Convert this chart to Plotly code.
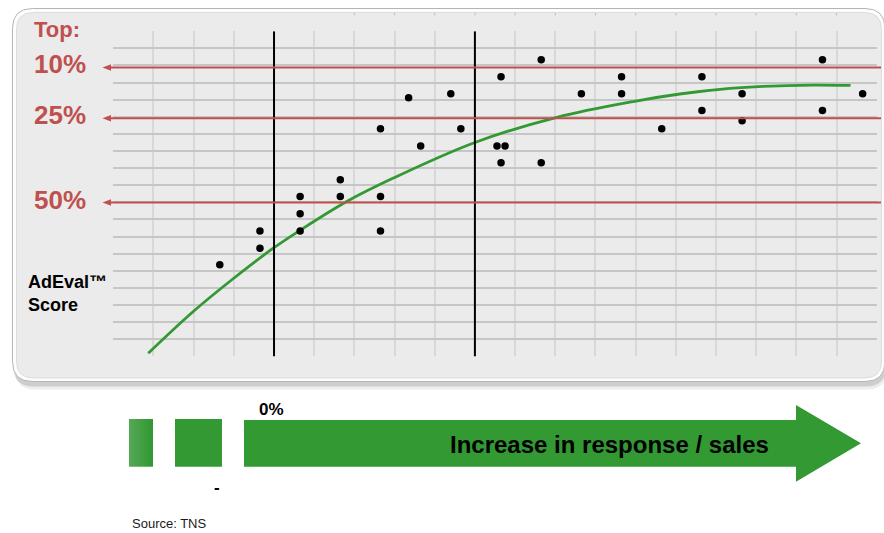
import plotly.graph_objects as go

W, H = 884, 533

# ---- data (grid units: 19 x 19 cells) ----
ad_x = [2.65, 3.65, 3.65, 4.65, 4.65, 4.65, 5.65, 5.65, 6.65, 6.65, 6.65,
        7.35, 7.65, 8.40, 8.65, 9.65, 9.55, 9.75, 9.65, 10.65, 10.65,
        11.65, 12.65, 12.65, 13.65, 14.65, 14.65, 15.65, 15.65, 17.65,
        17.65, 18.65]
ad_y = [5.35, 7.33, 6.32, 9.34, 8.33, 7.33, 10.32, 9.34, 13.30, 9.34, 7.33,
        15.11, 12.30, 15.35, 13.30, 16.34, 12.30, 12.30, 11.31, 17.33, 11.31,
        15.35, 16.34, 15.35, 13.30, 16.34, 14.37, 15.35, 13.77, 17.33,
        14.37, 15.35]

trend_x = [0.87, 1.99, 2.99, 3.98, 4.65, 5.81, 6.97, 9.00, 11.04, 12.94,
           14.10, 15.35, 16.17, 17.41, 18.35]
trend_y = [0.18, 2.62, 4.55, 6.32, 7.37, 9.05, 10.42, 12.50, 13.97, 14.89,
           15.33, 15.66, 15.78, 15.85, 15.83]

ref_labels = ["10%", "25%", "50%"]
ref_levels = [16.88, 13.92, 8.99]

divider_x = [4, 9]
grid_ticks = list(range(1, 19))
top_marks = list(range(6, 19))

FONT = "Liberation Sans, Arial, Helvetica, sans-serif"
RED = "#c0504d"
GREEN = "#339933"


def fx(x):
    return x / W


def fy(y):
    return 1 - y / H


def pt(x, y):
    return f"{fx(x):.5f},{fy(y):.5f}"


def rounded_rect(x0, y0, x1, y1, r):
    return (f"M{pt(x0 + r, y0)} L{pt(x1 - r, y0)} Q{pt(x1, y0)} {pt(x1, y0 + r)} "
            f"L{pt(x1, y1 - r)} Q{pt(x1, y1)} {pt(x1 - r, y1)} "
            f"L{pt(x0 + r, y1)} Q{pt(x0, y1)} {pt(x0, y1 - r)} "
            f"L{pt(x0, y0 + r)} Q{pt(x0, y0)} {pt(x0 + r, y0)} Z")


def polygon(points):
    return "M" + " L".join(pt(x, y) for x, y in points) + " Z"


shapes = []

# panel: soft shadow, white rim, grey face
shapes.append(dict(type="path", xref="paper", yref="paper", layer="below",
                   path=rounded_rect(14.5, 11, 887.5, 389.5, 21),
                   fillcolor="rgba(0,0,0,0.07)", line=dict(width=0)))
shapes.append(dict(type="path", xref="paper", yref="paper", layer="below",
                   path=rounded_rect(13.5, 10, 886, 386.5, 20),
                   fillcolor="rgba(0,0,0,0.13)", line=dict(width=0)))
shapes.append(dict(type="path", xref="paper", yref="paper", layer="below",
                   path=rounded_rect(12.5, 8.5, 885, 381.5, 20),
                   fillcolor="#fdfdfd", line=dict(color="#b5b5b5", width=1)))
shapes.append(dict(type="path", xref="paper", yref="paper", layer="below",
                   path=rounded_rect(16.5, 12.5, 881.5, 378, 17),
                   fillcolor="#ebebeb", line=dict(color="#d6d6d6", width=0.8)))

# small marks along the top rim
for k in top_marks:
    shapes.append(dict(type="line", xref="x", yref="paper", x0=k, x1=k,
                       y0=fy(13), y1=fy(15.5),
                       line=dict(color="#c4c4c4", width=1.2)))

# black dividers
for xv in divider_x:
    shapes.append(dict(type="line", xref="x", yref="y", x0=xv, x1=xv,
                       y0=0, y1=19, line=dict(color="black", width=2)))

# red percentile reference lines with left-pointing heads
for lvl in ref_levels:
    shapes.append(dict(type="line", xref="paper", yref="y",
                       x0=fx(109), x1=fx(881), y0=lvl, y1=lvl,
                       line=dict(color=RED, width=2)))
    shapes.append(dict(type="path", xref="paper", yref="y",
                       path=(f"M{fx(102.5):.5f},{lvl} L{fx(111):.5f},{lvl + 0.19} "
                             f"L{fx(111):.5f},{lvl - 0.19} Z"),
                       fillcolor=RED, line=dict(width=0)))

# green response arrow under the panel
light = (84, 166, 84)
dark = (51, 153, 51)
n = 8
x_left, x_right = 129, 153
for i in range(n):
    t = i / (n - 1)
    c = tuple(round(light[j] + (dark[j] - light[j]) * t) for j in range(3))
    xa = x_left + (x_right - x_left) * i / n
    xb = x_left + (x_right - x_left) * (i + 1) / n + 0.4
    shapes.append(dict(type="rect", xref="paper", yref="paper",
                       x0=fx(xa), x1=fx(min(xb, x_right)), y0=fy(466.7), y1=fy(419),
                       fillcolor="rgb(%d,%d,%d)" % c, line=dict(width=0)))
shapes.append(dict(type="rect", xref="paper", yref="paper",
                   x0=fx(175), x1=fx(222), y0=fy(466.7), y1=fy(419),
                   fillcolor=GREEN, line=dict(width=0)))
shapes.append(dict(type="path", xref="paper", yref="paper",
                   path=polygon([(244, 420), (796, 420), (796, 405), (861, 443.3),
                                 (796, 481.7), (796, 466.7), (244, 466.7)]),
                   fillcolor=GREEN, line=dict(width=0)))

annotations = []
annotations.append(dict(xref="paper", yref="paper", x=fx(31.5), y=fy(29.5),
                        xanchor="left", yanchor="middle", showarrow=False,
                        text="<b>Top:</b>", font=dict(family=FONT, size=22, color=RED)))
for lab, lvl in zip(ref_labels, ref_levels):
    annotations.append(dict(xref="paper", yref="y", x=fx(31.5), y=lvl, yshift=3,
                            xanchor="left", yanchor="middle", showarrow=False,
                            text=f"<b>{lab}</b>",
                            font=dict(family=FONT, size=26, color=RED)))
annotations.append(dict(xref="paper", yref="paper", x=fx(26), y=fy(293),
                        xanchor="left", yanchor="middle", showarrow=False, align="left",
                        text="<b>AdEval™<br>Score</b>",
                        font=dict(family=FONT, size=18, color="black")))
annotations.append(dict(xref="paper", yref="paper", x=fx(271), y=fy(409.5),
                        xanchor="center", yanchor="middle", showarrow=False,
                        text="<b>0%</b>", font=dict(family=FONT, size=17, color="black")))
annotations.append(dict(xref="paper", yref="paper", x=fx(217), y=fy(487),
                        xanchor="center", yanchor="middle", showarrow=False,
                        text="<b>-</b>", font=dict(family=FONT, size=17, color="black")))
annotations.append(dict(xref="paper", yref="paper", x=fx(609.5), y=fy(444),
                        xanchor="center", yanchor="middle", showarrow=False,
                        text="<b>Increase in response / sales</b>",
                        font=dict(family=FONT, size=24, color="black")))
annotations.append(dict(xref="paper", yref="paper", x=fx(129.5), y=fy(523),
                        xanchor="left", yanchor="middle", showarrow=False,
                        text="Source: TNS",
                        font=dict(family=FONT, size=13, color="#1a1a1a")))

fig = go.Figure()
fig.add_trace(go.Scatter(x=trend_x, y=trend_y, mode="lines",
                         line=dict(color=GREEN, width=2.8, shape="spline", smoothing=1.0),
                         hoverinfo="skip"))
fig.add_trace(go.Scatter(x=ad_x, y=ad_y, mode="markers",
                         marker=dict(color="black", size=7.5, line=dict(width=0))))

fig.update_layout(
    width=W, height=H,
    margin=dict(l=0, r=0, t=0, b=0),
    paper_bgcolor="white",
    plot_bgcolor="#ebebeb",
    showlegend=False,
    xaxis=dict(domain=[113.3 / W, 876.7 / W], range=[0, 19],
               tickmode="array", tickvals=grid_ticks, showticklabels=False,
               ticks="", showgrid=True, gridcolor="#d8d8d8", gridwidth=1.6,
               zeroline=False, showline=False, fixedrange=True),
    yaxis=dict(domain=[1 - 356.4 / H, 1 - 31.2 / H], range=[0, 19],
               tickmode="array", tickvals=grid_ticks, showticklabels=False,
               ticks="", showgrid=True, gridcolor="#c6c6c6", gridwidth=1.6,
               zeroline=False, showline=False, fixedrange=True),
    shapes=shapes,
    annotations=annotations,
)

fig.write_html("out.html", config=dict(displayModeBar=False))
